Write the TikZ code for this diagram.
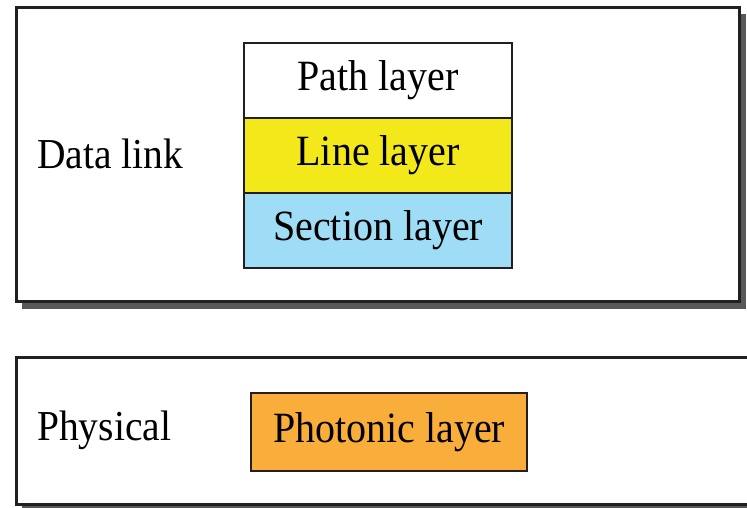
\documentclass[tikz,border=0pt]{standalone}
\usepackage{fontspec}
\usepackage{graphicx}
\setmainfont{Liberation Serif}
\definecolor{edge}{HTML}{231F20}
\definecolor{shadowgray}{HTML}{58585A}
\definecolor{lineyellow}{HTML}{F2E81A}
\definecolor{sectionblue}{HTML}{9FDCF5}
\definecolor{photonorange}{HTML}{F9AD3B}
\newcommand{\tallt}[1]{\scalebox{1}[1.08]{#1}}
\tikzset{
  outerbox/.style={draw=edge, line width=3pt, fill=white},
  shadowbox/.style={fill=shadowgray, draw=none},
  layerbox/.style={draw=edge, line width=2.2pt, minimum width=268pt, minimum height=75pt, inner sep=0pt, anchor=north west, font=\fontsize{40}{46}\selectfont},
  labeltext/.style={anchor=west, inner sep=0pt, font=\fontsize{39.5}{46}\selectfont}
}
\begin{document}
\begin{tikzpicture}[x=1pt,y=-1pt]
\useasboundingbox (0,0) rectangle (747,508);
\clip (0,0) rectangle (747,508);
% top group: Data link
\fill[shadowbox] (22,14) rectangle (746,309);
\draw[outerbox] (16,8) rectangle (739,301);
% bottom group: Physical
\fill[shadowbox] (22,363) rectangle (770,520);
\draw[outerbox] (16,357) rectangle (762,504);
% layer stack
\node[layerbox, fill=white] (path) at (243,42) {\tallt{Path layer}};
\node[layerbox, fill=lineyellow] (line) at (243,117) {\tallt{Line layer}};
\node[layerbox, fill=sectionblue] (section) at (243,192) {\tallt{Section layer}};
\node[layerbox, fill=photonorange, minimum width=276pt, minimum height=78pt] (photonic) at (250,392) {\tallt{Photonic layer}};
% side labels
\node[labeltext] (datalink) at (37,154) {\tallt{Data link}};
\node[labeltext] (physical) at (37,430) {\tallt{Physical}};
\end{tikzpicture}
\end{document}
